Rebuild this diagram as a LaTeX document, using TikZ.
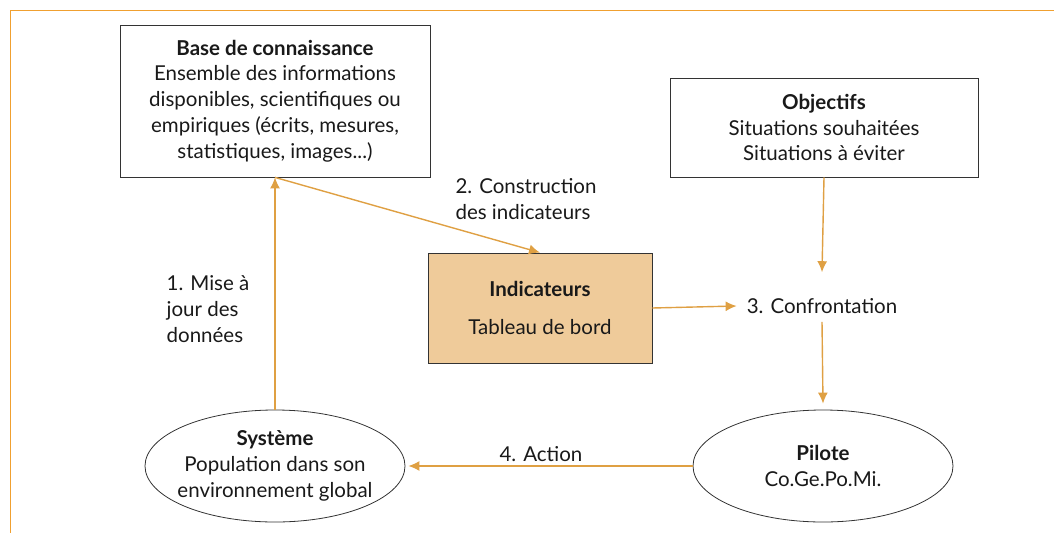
\documentclass[tikz,border=0pt]{standalone}
\usepackage{fontspec}
\setmainfont{Lato}
\usetikzlibrary{%
  positioning,%
  shapes.geometric,%
  arrows.meta%
}
\definecolor{flow}{HTML}{DFA043}
\definecolor{frame}{HTML}{F0A030}
\definecolor{panel}{HTML}{EFCB9A}

\begin{document}
\begin{tikzpicture}[x=1pt,y=-1pt,
  every node/.style={font=\fontsize{20.5}{25.8}\selectfont,text=black!90},
  box/.style={draw=black!80,line width=0.8pt,align=center,inner sep=0pt},
  blob/.style={ellipse,draw=black!80,line width=0.8pt,align=center,
    minimum width=260pt,minimum height=112pt,inner sep=-20pt},
  flowarrow/.style={draw=flow,line width=1.4pt,-{Latex[length=11pt,width=10pt]}},
  lbl/.style={align=left,inner sep=0pt}]

\useasboundingbox (0,0) rectangle (1054,533);
\draw[frame,line width=1pt] (1054,10) -- (10,10) -- (10,533);

\node[box,minimum width=310pt,minimum height=152pt] (base) at (275,101)
  {\textbf{Base de connaissance}\\Ensemble des informations\\disponibles, scientifiques ou\\empiriques (écrits, mesures,\\statistiques, images...)};
\node[box,minimum width=308pt,minimum height=99pt] (obj) at (824,127.5)
  {\textbf{Objectifs}\\Situations souhaitées\\Situations à éviter};
\node[box,fill=panel,minimum width=224pt,minimum height=110pt] (ind) at (540,308)
  {\textbf{Indicateurs}\\[12pt]Tableau de bord};
\node[inner sep=0pt] (conf) at (822,306) {3. Confrontation};
\node[blob] (sys) at (275,466)
  {\textbf{Système}\\Population dans son\\environnement global};
\node[blob] (pil) at (823,466)
  {\textbf{Pilote}\\Co.Ge.Po.Mi.};

\node[lbl] (l1) at (208,309) {1. Mise à\\jour des\\données};
\node[lbl] (l2) at (526,199) {2. Construction\\des indicateurs};
\node[inner sep=0pt] (l4) at (541,454) {4. Action};

\draw[flowarrow] (sys.north) -- (base.south);
\draw[flowarrow] (base.south) -- (ind.north);
\draw[flowarrow] (ind.east) -- ([xshift=-10pt]conf.west);
\draw[flowarrow] (obj.south) -- ([yshift=26pt]conf.north);
\draw[flowarrow] ([yshift=-8pt]conf.south) -- ([yshift=6pt]pil.north);
\draw[flowarrow] (pil.west) -- ([xshift=3pt]sys.east);
\end{tikzpicture}
\end{document}
